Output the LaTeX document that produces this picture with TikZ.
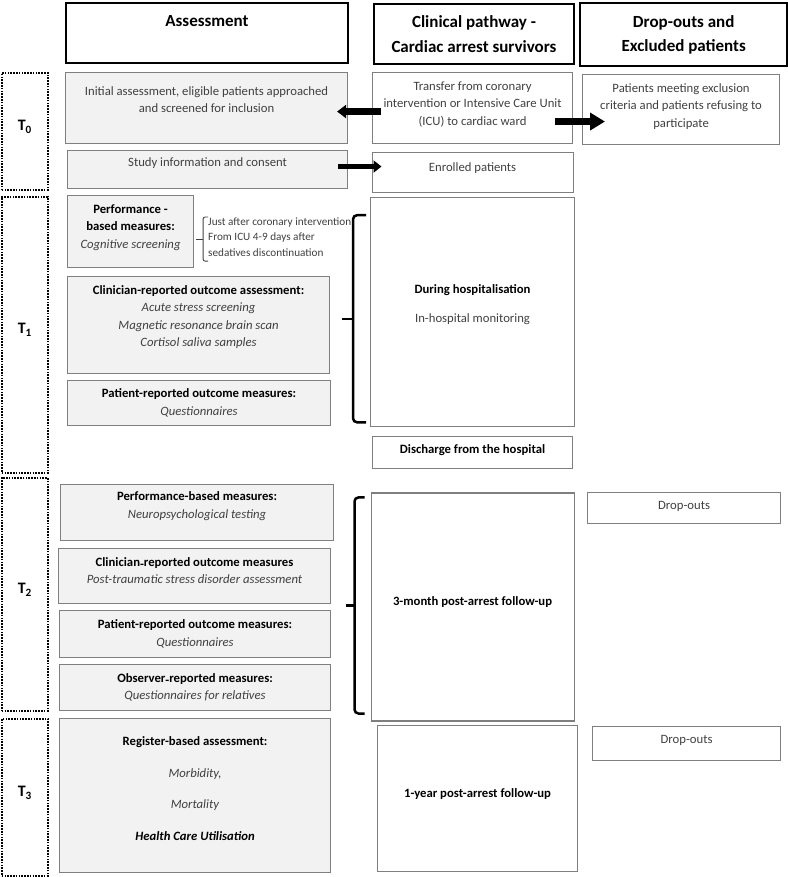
\documentclass[tikz,border=0pt]{standalone}
\usepackage{fontspec}
\setmainfont{Carlito}
\usetikzlibrary{positioning,arrows.meta,calc}

\definecolor{boxgray}{HTML}{F2F2F2}
\definecolor{linegray}{HTML}{7F7F7F}
\definecolor{textgray}{HTML}{404040}

\newcommand{\boldtxt}[1]{{\color{black}\bfseries #1}}
\newcommand{\lowdash}{\raisebox{-2pt}{-}}

\tikzset{
  base/.style={anchor=north west, align=center, inner sep=2pt, text=textgray, font=\fontsize{12.7}{17.5}\selectfont},
  header/.style={base, draw=black, line width=2pt, text=black, font=\bfseries\fontsize{17}{24.5}\selectfont},
  graybox/.style={base, draw=linegray, fill=boxgray, line width=1.1pt},
  whitebox/.style={base, draw=linegray, line width=1.1pt},
  period/.style={base, draw=black, line width=1.6pt, dash pattern=on 1.6pt off 1.2pt, text=black, font=\bfseries\fontsize{16}{18}\selectfont},
  dims/.style 2 args={minimum width=#1, minimum height=#2},
  lift/.style={text depth=#1},
  fatarrow/.style={line width=6.5pt, -{Triangle[length=9pt,width=13pt]}},
  bracket/.style={line width=2.5pt, rounded corners=4pt},
}

\begin{document}
\begin{tikzpicture}[x=1pt,y=-1pt]
\useasboundingbox (0,0) rectangle (787,877);

\node[header, dims={282pt}{60pt}] (hassess) at (65,2) {Assessment\\\mbox{}};
\node[header, dims={200pt}{60pt}] (hpath) at (373,3) {Clinical pathway -\\Cardiac arrest survivors};
\node[header, dims={207pt}{63pt}, line width=2.4pt] (hdrop) at (579,2) {Drop-outs and\\Excluded patients};

\node[period, dims={46pt}{117pt}, lift=12pt] (t0) at (1,72) {T\textsubscript{0}};
\node[period, dims={46pt}{276pt}, lift=12pt] (t1) at (1,196) {T\textsubscript{1}};
\node[period, dims={46pt}{233pt}, lift=12pt] (t2) at (1,477) {T\textsubscript{2}};
\node[period, dims={46pt}{157pt}, lift=12pt] (t3) at (1,718) {T\textsubscript{3}};

\node[graybox, dims={282pt}{71pt}, lift=17pt] (init) at (65,72) {Initial assessment, eligible patients approached\\and screened for inclusion};
\node[graybox, dims={280pt}{38pt}, lift=14pt] (study) at (67,150) {Study information and consent};
\node[whitebox, dims={200pt}{71pt}, lift=9pt] (transfer) at (372,72) {Transfer from coronary\\intervention or Intensive Care Unit\\(ICU) to cardiac ward};
\node[whitebox, dims={197pt}{70pt}, lift=8pt] (excluded) at (582,74) {Patients meeting exclusion\\criteria and patients refusing to\\participate};
\node[whitebox, dims={201pt}{40pt}, lift=12pt, below=8pt of transfer] (enrolled) {Enrolled patients};

\node[graybox, dims={126pt}{72pt}, lift=10pt] (perf1) at (67,195) {\boldtxt{Performance -}\\\boldtxt{based measures:}\\\textit{Cognitive screening}};
\node[base, anchor=west, align=left, font=\fontsize{11.2}{15.5}\selectfont] (timing) at (206,237) {Just after coronary intervention\\From ICU 4-9 days after\\sedatives discontinuation};
\node[graybox, dims={262pt}{97pt}, lift=18pt] (clin1) at (67,276) {\boldtxt{Clinician-reported outcome assessment:}\\\textit{Acute stress screening}\\\textit{Magnetic resonance brain scan}\\\textit{Cortisol saliva samples}};
\node[graybox, dims={263pt}{45pt}] (pat1) at (67,380) {\boldtxt{Patient-reported outcome measures:}\\\textit{Questionnaires}};
\node[whitebox, dims={204pt}{229pt}, lift=17pt, below=4pt of enrolled] (hosp) {\boldtxt{During hospitalisation}\\[12pt]In-hospital monitoring};
\node[whitebox, dims={200pt}{32pt}, lift=8pt, below=9pt of hosp] (discharge) {\boldtxt{Discharge from the hospital}};

\node[graybox, dims={273pt}{56pt}, lift=15pt] (perf2) at (60,484) {\boldtxt{Performance-based measures:}\\\textit{Neuropsychological testing}};
\node[graybox, dims={272pt}{55pt}, lift=11pt] (clin2) at (58,548) {\boldtxt{Clinician\lowdash reported outcome measures}\\\textit{Post-traumatic stress disorder assessment}};
\node[graybox, dims={271pt}{47pt}] (pat2) at (59,610) {\boldtxt{Patient-reported outcome measures:}\\\textit{Questionnaires}};
\node[graybox, dims={271pt}{46pt}] (obs2) at (59,664) {\boldtxt{Observer\lowdash reported measures:}\\\textit{Questionnaires for relatives}};
\node[whitebox, dims={203pt}{228pt}, lift=12pt, below=23pt of discharge] (fu3) {\boldtxt{3-month post-arrest follow-up}};
\node[whitebox, dims={193pt}{31pt}, lift=6pt] (drop2) at (587,492) {Drop-outs};

\node[graybox, dims={271pt}{154pt}, lift=14pt, font=\fontsize{12.7}{31.5}\selectfont] (reg3) at (59,718) {\boldtxt{Register-based assessment:}\\\textit{Morbidity,}\\\textit{Mortality}\\\boldtxt{\itshape Health Care Utilisation}};
\node[whitebox, dims={200pt}{146pt}, lift=12pt] (fu12) at (377,725) {\boldtxt{1-year post-arrest follow-up}};
\node[whitebox, dims={188pt}{34pt}, lift=8pt] (drop3) at (592,726) {Drop-outs};

\draw[fatarrow, shorten <=-9pt, shorten >=-11pt] ([yshift=-3.5pt]transfer.west) -- ([yshift=-3.5pt]init.east);
\draw[fatarrow, -{Triangle[length=15pt,width=17pt]}, shorten <=-18pt, shorten >=-23pt] ([yshift=-13.5pt]transfer.east) -- ([yshift=-13.5pt]transfer.east -| excluded.west);
\draw[fatarrow, line width=5pt, -{Triangle[length=8pt,width=12pt]}, shorten <=-10pt, shorten >=-10pt] ([yshift=3pt]study.east) -- ([yshift=3pt]study.east -| enrolled.west);

\coordinate (pbtop) at ([xshift=14pt,yshift=-22pt]perf1.north east);
\coordinate (pbbot) at ([xshift=14pt,yshift=7pt]perf1.south east);
\draw[bracket, line width=0.9pt, rounded corners=2pt, draw=textgray] (pbtop) -- ++(-5,0) -- ($(pbbot)+(-5,0)$) -- (pbbot);
\draw[line width=0.9pt, draw=textgray] ($(pbtop)!.5!(pbbot)+(-5,0)$) -- ++(-7,0);

\coordinate (hbtop) at ([xshift=-4pt,yshift=-18pt]hosp.north west);
\coordinate (hbbot) at ([xshift=-4pt,yshift=5pt]hosp.south west);
\draw[bracket] (hbtop) -- ++(-13,0) -- ($(hbbot)+(-13,0)$) -- (hbbot);
\draw[bracket] ($(hbtop)!.5!(hbbot)+(-12,0)$) -- ++(-12,0);

\coordinate (fbtop) at ([xshift=-6pt,yshift=-5pt]fu3.north west);
\coordinate (fbbot) at ([xshift=-6pt,yshift=8pt]fu3.south west);
\draw[bracket] (fbtop) -- ++(-10,0) -- ($(fbbot)+(-10,0)$) -- (fbbot);
\draw[bracket] ($(fbtop)!.5!(fbbot)+(-9,0)$) -- ++(-10,0);
\end{tikzpicture}
\end{document}
